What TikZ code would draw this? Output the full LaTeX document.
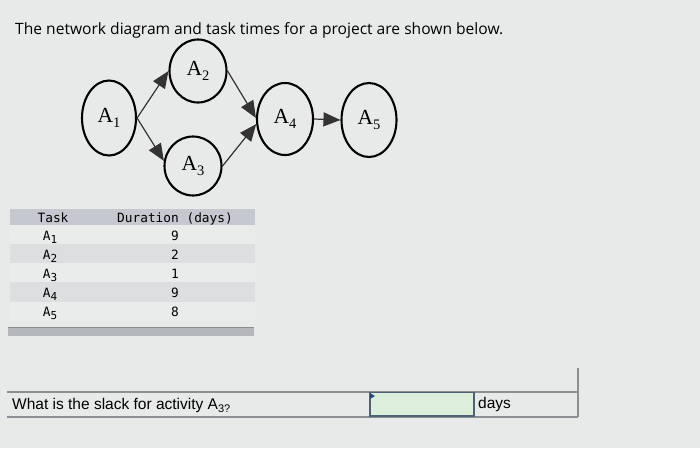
\documentclass[tikz,border=0pt]{standalone}
\usepackage{fontspec}
\setmainfont{Liberation Serif}
\newfontfamily\titlefont{Open Sans}
\newfontfamily\arialfont{Liberation Sans}
\newfontfamily\monofont{DejaVu Sans Mono}
\usetikzlibrary{shapes.geometric,arrows.meta}
\definecolor{bgc}{HTML}{E8EAEA}
\definecolor{hdrc}{HTML}{C5C8CF}
\definecolor{darkrow}{HTML}{DCDEDF}
\definecolor{lightrow}{HTML}{EAECEC}
\definecolor{barc}{HTML}{B4B8BC}
\definecolor{barline}{HTML}{8A8E92}
\definecolor{rulec}{HTML}{8C8F92}
\definecolor{ansfill}{HTML}{DDEEDD}
\definecolor{ansdraw}{HTML}{4D6275}
\definecolor{markc}{HTML}{2A4A7A}
\newcommand{\subsr}[1]{\raisebox{-0.22em}{\fontsize{14.5}{14.5}\selectfont #1}}
\newcommand{\subm}[1]{\raisebox{-0.25em}{\fontsize{11}{11}\selectfont #1}}
\newcommand{\suba}[1]{\raisebox{-0.25em}{\fontsize{11}{11}\selectfont #1}}
\begin{document}
\begin{tikzpicture}[x=1pt,y=-1pt,
  act/.style={draw=black,line width=2.1pt,ellipse,inner sep=0pt,
    font=\fontsize{21.5}{24}\selectfont},
  flow/.style={draw=black!80,line width=1.2pt,-{Triangle[length=17pt,width=14pt]}},
  ttext/.style={font=\titlefont\fontsize{15.6}{18}\selectfont,anchor=base west,inner sep=0pt},
  qtext/.style={font=\arialfont\fontsize{15.5}{18}\selectfont,anchor=base west,inner sep=0pt},
  cell/.style={font=\monofont\fontsize{12.8}{15}\selectfont,anchor=base,inner sep=0pt}]
\fill[bgc] (0,0) rectangle (700,448);
\useasboundingbox (0,0) rectangle (700,448);
% title
\node[ttext] (title) at (15,34) {The network diagram and task times for a project are shown below.};
% network
\node[act,minimum width=54pt,minimum height=75pt] (a1) at (109,118) {A\subsr{1}};
\node[act,minimum width=57pt,minimum height=63pt] (a2) at (198,71) {A\subsr{2}};
\node[act,minimum width=57pt,minimum height=59pt] (a3) at (193,166) {A\subsr{3}};
\node[act,minimum width=56pt,minimum height=72pt] (a4) at (285,119) {A\subsr{4}};
\node[act,minimum width=55pt,minimum height=74pt] (a5) at (369,120) {A\subsr{5}};
\draw[flow] (a1.east) -- (a2.west);
\draw[flow] (a1.east) -- (a3.170);
\draw[flow] (a2.east) -- (a4.178);
\draw[flow] (a3.east) -- (a4.190);
\draw[flow] (a4.east) -- (a5.west);
% table
\fill[hdrc] (10,209) rectangle (255,225);
\fill[lightrow] (10,225) rectangle (255,244);
\fill[darkrow] (10,244) rectangle (255,263);
\fill[lightrow] (10,263) rectangle (255,282);
\fill[darkrow] (10,282) rectangle (255,302);
\fill[lightrow] (10,302) rectangle (255,321);
\fill[barc] (8,327) rectangle (254,336);
\draw[barline,line width=1.2pt] (8,327.5) -- (254,327.5);
\node[cell] (hTask) at (53,222) {Task};
\node[cell] (hDur) at (175,222) {Duration (days)};
\node[cell] (t1) at (50,240) {A\subm{1}};
\node[cell] (d1) at (175,240) {9};
\node[cell] (t2) at (50,259) {A\subm{2}};
\node[cell] (d2) at (175,259) {2};
\node[cell] (t3) at (50,278) {A\subm{3}};
\node[cell] (d3) at (175,278) {1};
\node[cell] (t4) at (50,297) {A\subm{4}};
\node[cell] (d4) at (175,297) {9};
\node[cell] (t5) at (50,316) {A\subm{5}};
\node[cell] (d5) at (175,316) {8};
% question row
\draw[rulec,line width=1.3pt] (7,392) -- (578,392);
\draw[rulec,line width=1.3pt] (7,417) -- (578,417);
\draw[rulec,line width=1.3pt] (578,368) -- (578,417);
\draw[ansdraw,fill=ansfill,line width=1.6pt] (370,392.5) rectangle (474,416);
\fill[markc] (370,393) -- (375,396) -- (370,399) -- cycle;
\node[qtext] (q) at (12,409) {What is the slack for activity A\suba{3?}};
\node[qtext] (days) at (478,408) {days};
\end{tikzpicture}
\end{document}
